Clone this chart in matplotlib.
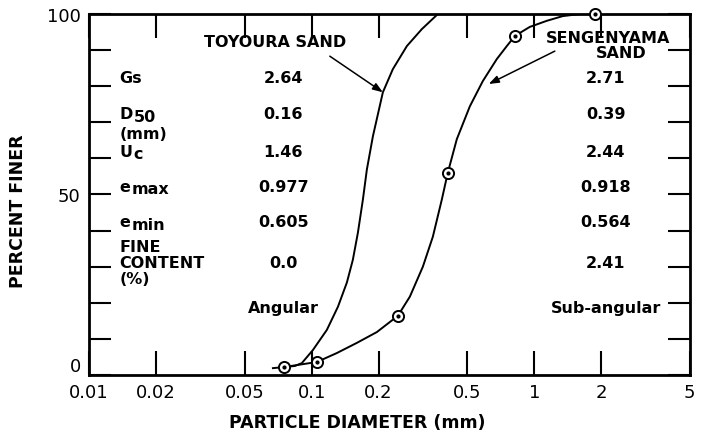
import numpy as np
import matplotlib
matplotlib.use('Agg')
from matplotlib import pyplot as plt

# grain size curves (diameter in mm, percent finer)
toyoura_d = [0.067, 0.0752, 0.0841, 0.0904, 0.1013, 0.1171, 0.1313, 0.1440, 0.1532, 0.1614, 0.1700,
             0.1771, 0.1885, 0.2090, 0.2317, 0.2679, 0.3128, 0.3652]
toyoura_pct = [1.9, 2.2, 2.5, 3.3, 6.9, 12.5, 18.9, 25.6, 31.9, 39.4, 48.6,
               56.9, 66.1, 78.3, 84.7, 91.1, 95.8, 99.7]

seng_d = [0.0752, 0.1056, 0.130, 0.1597, 0.1965, 0.2441, 0.2763, 0.3161, 0.3505, 0.3846, 0.409,
          0.449, 0.5138, 0.5877, 0.6792, 0.7534, 0.8186, 0.955, 1.14, 1.344, 1.62, 1.87]
seng_pct = [2.2, 3.6, 6.1, 8.9, 11.9, 16.4, 21.7, 30.0, 38.3, 48.6, 56.0,
            65.3, 74.4, 81.4, 87.5, 91.1, 93.9, 96.4, 98.1, 99.4, 100, 100]

seng_marker_d = [0.0752, 0.1056, 0.2441, 0.409, 0.8186, 1.87]
seng_marker_pct = [2.2, 3.6, 16.4, 56.0, 93.9, 100]

# property table
prop_main = ['Gs', 'D', 'U', 'e', 'e', 'FINE\nCONTENT\n(%)', '']
prop_sub = ['', '50', 'c', 'max', 'min', '', '']
toyoura_props = ['2.64', '0.16', '1.46', '0.977', '0.605', '0.0', 'Angular']
seng_props = ['2.71', '0.39', '2.44', '0.918', '0.564', '2.41', 'Sub-angular']
row_y = [82.5, 72.5, 62, 52.3, 42.5, 31.2, 18.8]

xticks = [0.01, 0.02, 0.05, 0.1, 0.2, 0.5, 1, 2, 5]
xticklabels = ['0.01', '0.02', '0.05', '0.1', '0.2', '0.5', '1', '2', '5']

fig = plt.figure(figsize=(7.01, 4.39), dpi=100)
ax = fig.add_axes([0.127, 0.1435, 0.857, 0.8225])

ax.plot(toyoura_d, toyoura_pct, color='black', lw=1.4)
ax.plot(seng_d, seng_pct, color='black', lw=1.4)
ax.plot(seng_marker_d, seng_marker_pct, 'o', ms=8, mfc='white', mec='black', mew=1.4, clip_on=False, zorder=5)
ax.plot(seng_marker_d, seng_marker_pct, 'o', ms=2, color='black', clip_on=False, zorder=6)

ax.set_xscale('log')
ax.set_xlim(0.01, 5)
ax.set_ylim(0, 100)

ax.set_xticks(xticks)
ax.set_xticklabels(xticklabels, fontsize=13)
ax.xaxis.set_minor_locator(matplotlib.ticker.NullLocator())
ax.set_yticks(np.arange(0, 101, 10))
ax.set_yticklabels(['0', '', '', '', '', '50', '', '', '', '', '100'], fontsize=13)
ax.get_yticklabels()[0].set_va('bottom')
ax.tick_params(axis='both', direction='in', length=16, width=1.5, top=True, right=True, pad=6)
ax.tick_params(axis='x', length=17)
for s in ax.spines.values():
    s.set_linewidth(2)

ax.set_xlabel('PARTICLE DIAMETER (mm)', fontsize=12.5, fontweight='bold')
ax.xaxis.set_label_coords(0.446, -0.104)
ax.set_ylabel('PERCENT FINER', fontsize=12.5, fontweight='bold')
ax.yaxis.set_label_coords(-0.103, 0.456)

tfont = dict(fontsize=11.5, fontweight='bold', color='black')
col1_x, col2_x, name_x = 0.0745, 2.1, 0.0137
for main, sub, a, b, y in zip(prop_main, prop_sub, toyoura_props, seng_props, row_y):
    if main:
        t = ax.text(name_x, y, main, ha='left', va='center', linespacing=1.1, **tfont)
        if sub:
            ax.annotate(sub, xy=(1, 0), xycoords=t, xytext=(1, -2), textcoords='offset points',
                        ha='left', va='bottom', **tfont)
        if main == 'D':
            ax.annotate('(mm)', xy=(0, 0), xycoords=t, xytext=(0, -3.5), textcoords='offset points',
                        ha='left', va='top', **tfont)
    ax.text(col1_x, y, a, ha='center', va='center', **tfont)
    ax.text(col2_x, y, b, ha='center', va='center', **tfont)

arrow = dict(arrowstyle='-|>,head_length=0.6,head_width=0.22', color='black', lw=1.1,
             shrinkA=0, shrinkB=0)
ax.text(0.0684, 92.5, 'TOYOURA SAND', ha='center', va='center', **tfont)
ax.annotate('', xy=(0.209, 78.3), xytext=(0.1207, 88.3), arrowprops=arrow)
ax.text(2.14, 93.6, 'SENGENYAMA', ha='center', va='center', **tfont)
ax.text(2.45, 89.2, 'SAND', ha='center', va='center', **tfont)
ax.annotate('', xy=(0.625, 80.6), xytext=(1.238, 89.7), arrowprops=arrow)

fig.savefig('out.png', dpi=100)
